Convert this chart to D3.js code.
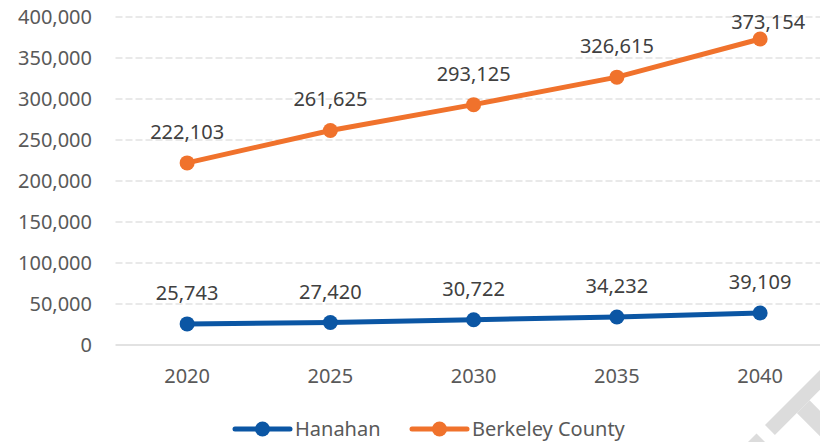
<!DOCTYPE html>
<style>
body { margin: 0; background: #fff; }
text { font-family: "Noto Sans", "Open Sans", sans-serif; fill: #595959; }
</style>
<svg width="820" height="442" id="chart"></svg>
<script src="https://d3js.org/d3.v7.min.js"></script>
<script>
var years = ["2020", "2025", "2030", "2035", "2040"];
var hanahan = [25743, 27420, 30722, 34232, 39109];
var berkeley = [222103, 261625, 293125, 326615, 373154];
var yTicks = [0, 50000, 100000, 150000, 200000, 250000, 300000, 350000, 400000];

var series = [
  {name: "Hanahan", values: hanahan, color: "#0b56a4"},
  {name: "Berkeley County", values: berkeley, color: "#f0722c"}
];

var svg = d3.select("#chart");
var fmt = d3.format(",");

var x = d3.scaleBand().domain(years).range([115.5, 831.75]);
var y = d3.scaleLinear().domain([0, 400000]).range([345, 17]);
var cx = function(d) { return x(d) + x.bandwidth() / 2; };

// faint watermark fragments in the corner (clipped letters of a diagonal stamp)
var wm = svg.append("g").attr("transform", "translate(765,425) rotate(-45)").attr("fill", "#dcdcdc");
wm.append("rect").attr("x", 0).attr("y", 0).attr("width", 80).attr("height", 14);
wm.append("rect").attr("x", 31).attr("y", 14).attr("width", 18).attr("height", 90);
wm.append("rect").attr("x", -60).attr("y", 0).attr("width", 48).attr("height", 14);

// gridlines
svg.append("g").selectAll("line")
  .data(yTicks.filter(function(t) { return t > 0; }))
  .enter().append("line")
    .attr("x1", 115.5).attr("x2", 831.75)
    .attr("y1", function(d) { return y(d); })
    .attr("y2", function(d) { return y(d); })
    .attr("stroke", "#d4d4d4")
    .attr("stroke-width", 1.2)
    .attr("stroke-dasharray", "7,3");

svg.append("line")
    .attr("x1", 115.5).attr("x2", 831.75)
    .attr("y1", y(0)).attr("y2", y(0))
    .attr("stroke", "#d9d9d9")
    .attr("stroke-width", 1.5);

// y axis labels
svg.append("g").selectAll("text")
  .data(yTicks)
  .enter().append("text")
    .attr("x", 92)
    .attr("y", function(d) { return y(d); })
    .attr("dy", "0.35em")
    .attr("text-anchor", "end")
    .style("font-size", "20px")
    .text(function(d) { return fmt(d); });

// x axis labels
svg.append("g").selectAll("text")
  .data(years)
  .enter().append("text")
    .attr("x", cx)
    .attr("y", 376)
    .attr("dy", "0.35em")
    .attr("text-anchor", "middle")
    .style("font-size", "20px")
    .text(function(d) { return d; });

var line = d3.line()
    .x(function(d, i) { return cx(years[i]); })
    .y(function(d) { return y(d); });

series.forEach(function(s) {
  var g = svg.append("g");
  g.append("path")
      .attr("d", line(s.values))
      .attr("fill", "none")
      .attr("stroke", s.color)
      .attr("stroke-width", 5)
      .attr("stroke-linecap", "round");
  g.selectAll("circle").data(s.values)
    .enter().append("circle")
      .attr("cx", function(d, i) { return cx(years[i]); })
      .attr("cy", function(d) { return y(d); })
      .attr("r", 7.5)
      .attr("fill", s.color);
  g.selectAll("text").data(s.values)
    .enter().append("text")
      .attr("x", function(d, i) { return cx(years[i]) + (y(d) - 31 < 22 ? 8 : 0); })
      .attr("y", function(d) { return Math.max(y(d) - 31, 22); })
      .attr("dy", "0.35em")
      .attr("text-anchor", "middle")
      .style("font-size", "20px")
      .style("fill", "#404040")
      .text(function(d) { return fmt(d); });
});

// legend
var legendX = [235, 412];
var legend = svg.append("g").selectAll("g")
  .data(series)
  .enter().append("g")
    .attr("transform", function(d, i) { return "translate(" + legendX[i] + ",429)"; });

legend.append("line")
    .attr("x1", 0).attr("x2", 55)
    .attr("stroke", function(d) { return d.color; })
    .attr("stroke-width", 5)
    .attr("stroke-linecap", "round");
legend.append("circle")
    .attr("cx", 27.5)
    .attr("r", 7.5)
    .attr("fill", function(d) { return d.color; });
legend.append("text")
    .attr("x", 60)
    .attr("dy", "0.35em")
    .style("font-size", "20px")
    .text(function(d) { return d.name; });
</script>
